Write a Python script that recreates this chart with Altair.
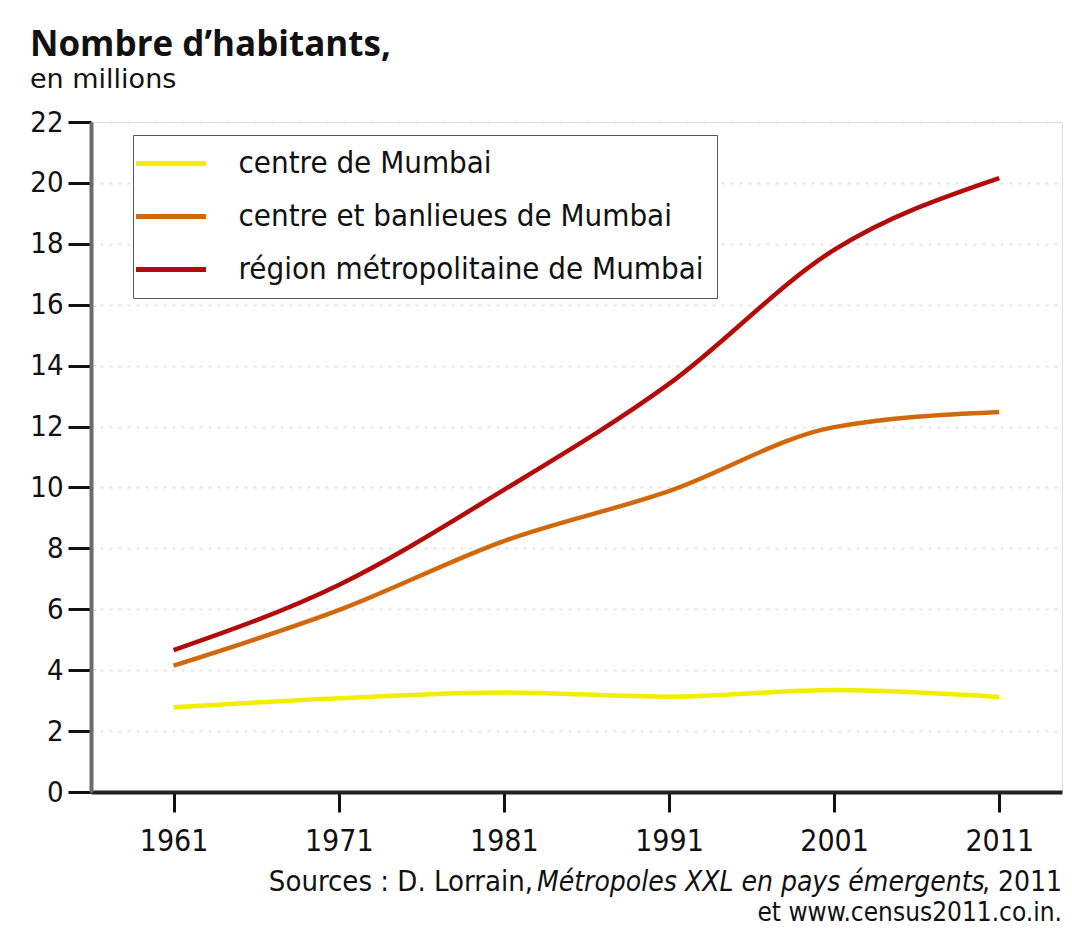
import altair as alt
import pandas as pd

years = [1961, 1971, 1981, 1991, 2001, 2011]
series_names = ["centre de Mumbai", "centre et banlieues de Mumbai", "région métropolitaine de Mumbai"]
centre = [2.78, 3.08, 3.27, 3.13, 3.35, 3.12]
banlieues = [4.15, 5.97, 8.24, 9.88, 11.98, 12.48]
region = [4.66, 6.80, 9.92, 13.40, 17.80, 20.16]
colors = ["#f2ee00", "#d2680c", "#b30a0a"]
y_ticks = list(range(0, 23, 2))

rows = []
for name, vals in zip(series_names, [centre, banlieues, region]):
    for yr, v in zip(years, vals):
        rows.append({"annee": yr, "valeur": v, "serie": name})
df = pd.DataFrame(rows)

NARROW = "DejaVu Sans Condensed, Roboto, sans-serif"
W, H = 971, 670

lines = alt.Chart(df).mark_line(strokeWidth=4.5, interpolate="monotone").encode(
    x=alt.X("annee:Q",
            scale=alt.Scale(domain=[1956, 2014.8], nice=False, zero=False),
            axis=alt.Axis(values=years, format="d", title=None,
                          grid=False, tickSize=20, tickWidth=3, tickColor="#111",
                          domainColor="#222", domainWidth=4,
                          labelFont=NARROW, labelFontSize=30, labelColor="#111",
                          labelPadding=14)),
    y=alt.Y("valeur:Q",
            scale=alt.Scale(domain=[0, 22], nice=False),
            axis=alt.Axis(values=y_ticks, title=None,
                          grid=True, gridColor="#e6e6e6", gridDash=[3, 6], gridWidth=2,
                          tickSize=23, tickWidth=3, tickColor="#111",
                          domainColor="#6b6b6b", domainWidth=4,
                          labelFont=NARROW, labelFontSize=29, labelColor="#111",
                          labelPadding=5)),
    color=alt.Color("serie:N",
                    scale=alt.Scale(domain=series_names, range=colors),
                    legend=alt.Legend(title=None, orient="none", legendX=42, legendY=13,
                                      symbolType="M-3.5,0H3.5", symbolSize=400,
                                      symbolStrokeWidth=5, symbolOffset=9.5,
                                      labelOffset=52, labelFont=NARROW, labelFontSize=31,
                                      labelColor="#111", labelLimit=800,
                                      rowPadding=21, padding=13,
                                      strokeColor="#555", fillColor="white")),
)

one = pd.DataFrame({"k": [0]})
src1 = alt.Chart(one).mark_text(text="Sources : D. Lorrain,", align="right", baseline="alphabetic",
                                font=NARROW, fontSize=29, color="#111").encode(
    x=alt.value(442), y=alt.value(769))
src2 = alt.Chart(one).mark_text(text="Métropoles XXL en pays émergents", align="left", baseline="alphabetic",
                                font=NARROW, fontSize=28, fontStyle="italic", color="#111").encode(
    x=alt.value(446), y=alt.value(769))
src3 = alt.Chart(one).mark_text(text=", 2011", align="right", baseline="alphabetic",
                                font=NARROW, fontSize=28, color="#111").encode(
    x=alt.value(W), y=alt.value(769))
src4 = alt.Chart(one).mark_text(text="et www.census2011.co.in.", align="right", baseline="alphabetic",
                                font=NARROW, fontSize=26, color="#111").encode(
    x=alt.value(W), y=alt.value(799))

chart = alt.layer(lines, src1, src2, src3, src4).properties(
    width=W, height=H,
    title=alt.TitleParams(text="Nombre d’habitants,", subtitle="en millions",
                          anchor="start", frame="group", dx=-61, offset=15,
                          font="Open Sans", fontWeight="bold", fontSize=35, color="#111",
                          subtitleFont="DejaVu Sans", subtitleFontSize=27,
                          subtitleColor="#111", subtitlePadding=4),
    autosize=alt.AutoSizeParams(type="none"),
    padding={"left": 83, "top": 114, "right": 2, "bottom": 140},
).configure_view(stroke=None).configure(background="white")

chart.save("out.html", embed_options={"renderer": "svg", "actions": False})
